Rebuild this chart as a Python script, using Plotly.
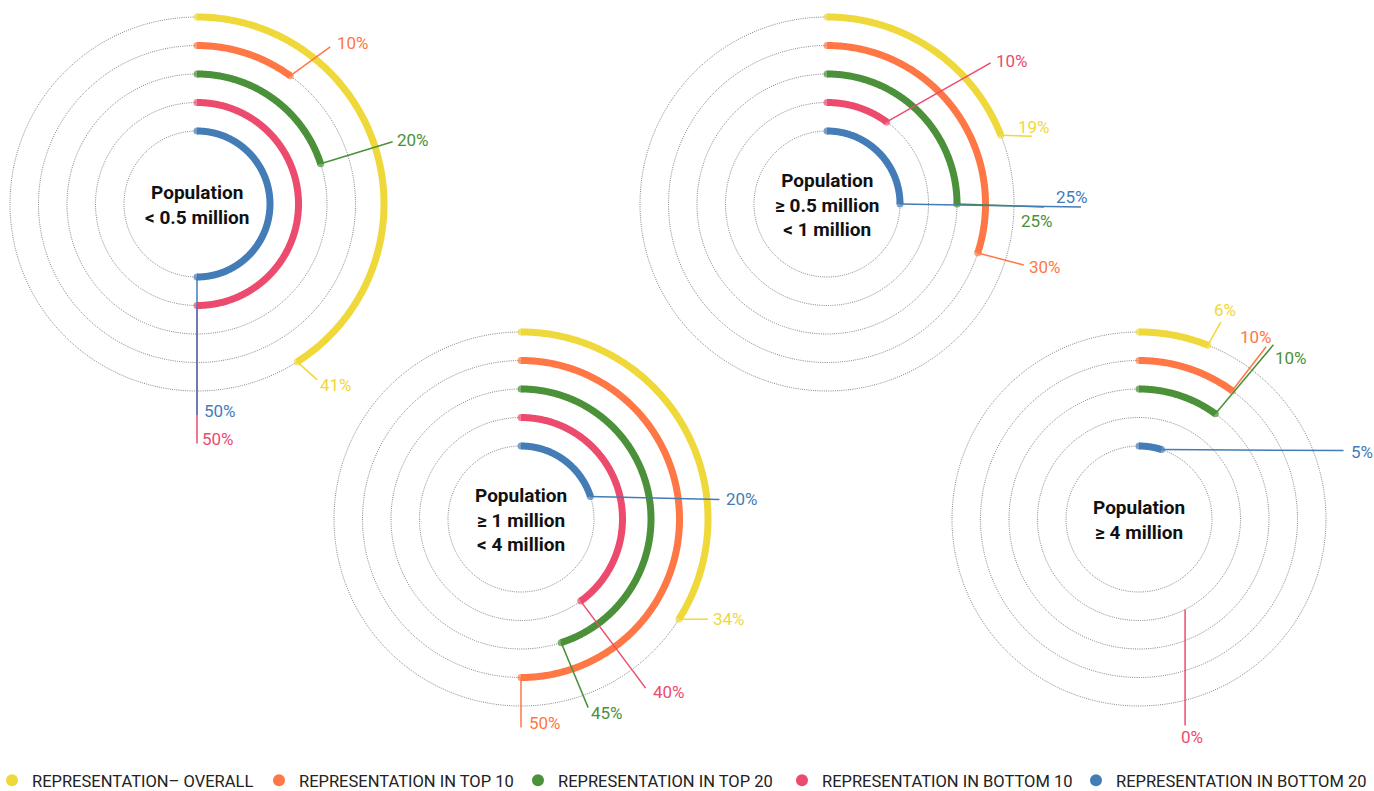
import math
import plotly.graph_objects as go

# ---------------- data ----------------
group_titles = [
    "Population<br>&lt; 0.5 million",
    "Population<br>≥ 0.5 million<br>&lt; 1 million",
    "Population<br>≥ 1 million<br>&lt; 4 million",
    "Population<br>≥ 4 million",
]
series_names = [
    "REPRESENTATION– OVERALL",
    "REPRESENTATION IN TOP 10",
    "REPRESENTATION IN TOP 20",
    "REPRESENTATION IN BOTTOM 10",
    "REPRESENTATION IN BOTTOM 20",
]
overall = [41, 19, 34, 6]
top10 = [10, 30, 50, 10]
top20 = [20, 25, 45, 10]
bottom10 = [50, 10, 40, 0]
bottom20 = [50, 25, 20, 5]
series_values = [overall, top10, top20, bottom10, bottom20]

# ---------------- styling / layout ----------------
series_colors = ["#EFD83A", "#FF7745", "#4A9139", "#EC4B6D", "#437CB7"]
W, H = 1374, 791
centers = [(197, 204), (827, 204), (521, 519), (1139, 519)]
ring_radii = [187, 158.5, 130, 101.5, 73]
legend_left_px = [-8, 259, 518, 782, 1076]
FONT = "Roboto, 'Open Sans', sans-serif"

# leader (dx, dy from arc end) and label (dx, dy from leader end) per group / series
leaders = [
    [(20, 18, 1, 5), (40, -29, 5, -4), (72, -22, 2, -2), (0, 138, 3, -5), (0, 138, 5, -4)],
    [(31, 1, -16, -9), (46, 12, 3, 2), (87, 3, -25, 14), (104, -59, 3, -2), (181, 3, -27, -10)],
    [(29, 0, 3, 0), (0, 50, 6, -5), (27, 65, 1, 5), (65, 87, 5, 4), (129, 3, 5, 0)],
    [(13, -23, -9, -12), (34, -44, -28, -10), (58, -69, 0, 13), (0, 116, -6, 12), (182, 1, 5, 1)],
]
zero_anchor_deg = 153  # where a leader starts on a ring when the value is 0


def polar_xy(c, r, deg):
    a = math.radians(deg)
    return c[0] + r * math.sin(a), c[1] - r * math.cos(a)


fig = go.Figure()

# dotted guide circles
for c in centers:
    for r in ring_radii:
        pts = [polar_xy(c, r, d) for d in range(0, 361, 1)]
        fig.add_trace(go.Scatter(
            x=[p[0] for p in pts], y=[p[1] for p in pts], mode="lines",
            line=dict(color="#858585", width=1, dash="1px,1.2px", simplify=False),
            hoverinfo="skip", showlegend=False))

annotations = []
for g, c in enumerate(centers):
    for s in range(len(series_names)):
        v = series_values[s][g]
        r = ring_radii[s]
        col = series_colors[s]
        if v > 0:
            end_deg = v / 100 * 360
            n = max(2, int(end_deg * 2) + 1)
            degs = [end_deg * i / (n - 1) for i in range(n)]
            pts = [polar_xy(c, r, d) for d in degs]
            sizes = [7] + [0] * (n - 2) + [7]
            fig.add_trace(go.Scatter(
                x=[p[0] for p in pts], y=[p[1] for p in pts], mode="lines+markers",
                line=dict(color=col, width=7, simplify=False),
                marker=dict(color=col, size=sizes, line=dict(width=0)),
                name=series_names[s],
                hovertemplate=f"{series_names[s]}: {v}%<extra></extra>",
                showlegend=False))
            sx, sy = pts[-1]
        else:
            sx, sy = polar_xy(c, r, zero_anchor_deg)
        ldx, ldy, tdx, tdy = leaders[g][s]
        ex, ey = sx + ldx, sy + ldy
        fig.add_trace(go.Scatter(
            x=[sx, ex], y=[sy, ey], mode="lines",
            line=dict(color=col, width=1.5), hoverinfo="skip", showlegend=False))
        annotations.append(dict(
            x=ex + tdx, y=ey + tdy, xref="x", yref="y", text=f"{v}%",
            showarrow=False, xanchor="left", yanchor="middle",
            font=dict(family=FONT, size=17, color=col)))
    annotations.append(dict(
        x=c[0], y=c[1] + 1, xref="x", yref="y", text=f"<b>{group_titles[g]}</b>",
        showarrow=False, xanchor="center", yanchor="middle",
        font=dict(family=FONT, size=19, color="#111111")))

# legend entries: one legend box per series so each sits where the reference puts it
legend_layouts = {}
for s, name in enumerate(series_names):
    key = "legend" if s == 0 else f"legend{s + 1}"
    fig.add_trace(go.Scatter(
        x=[None], y=[None], mode="markers", name=name, legend=key,
        marker=dict(color=series_colors[s], size=12), showlegend=True))
    legend_layouts[key] = dict(
        orientation="h", x=legend_left_px[s] / W, xanchor="left",
        y=-0.009, yanchor="bottom",
        font=dict(family=FONT, size=16.5, color="#222222"),
        itemclick=False, itemdoubleclick=False, bgcolor="rgba(0,0,0,0)")

fig.update_layout(
    width=W, height=H, margin=dict(l=0, r=0, t=0, b=0, autoexpand=False),
    paper_bgcolor="white", plot_bgcolor="white",
    xaxis=dict(range=[0, W], visible=False, fixedrange=True),
    yaxis=dict(range=[H, 0], visible=False, fixedrange=True),
    annotations=annotations,
    showlegend=True,
    **legend_layouts,
)

fig.write_html(
    "out.html",
    config={"displayModeBar": False},
    post_script=(
        "document.body.style.margin='0';"
        "document.documentElement.style.overflow='hidden';"
        "var d=document.getElementById('{plot_id}');"
        "d.style.position='absolute';d.style.left='0px';d.style.top='0px';"
    ),
)
